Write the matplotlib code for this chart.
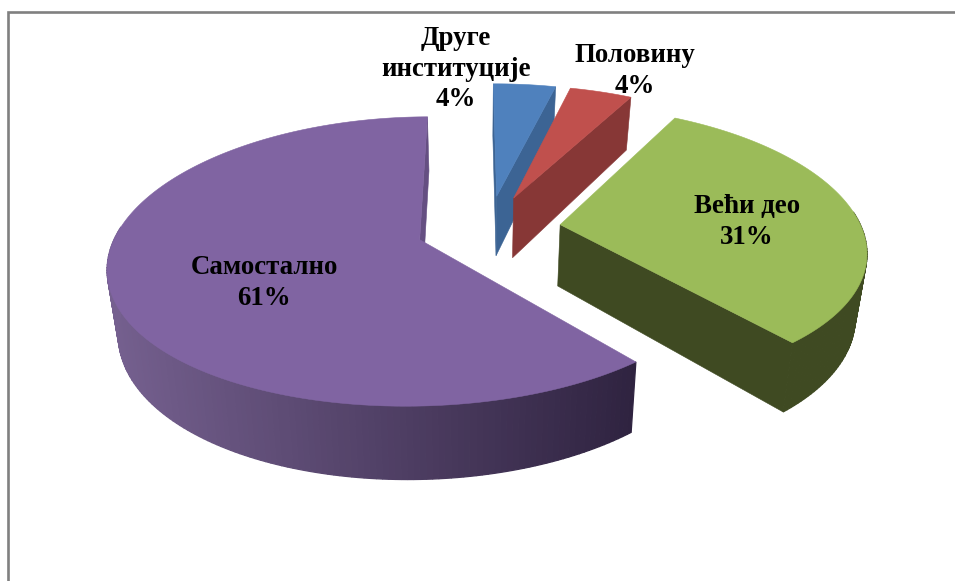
import numpy as np
import matplotlib
matplotlib.use("Agg")
import matplotlib.pyplot as plt

# chart data
labels = ["Друге\nинституције", "Половину", "Већи део", "Самостално"]
values = [4, 4, 31, 61]

# styles, one per slice
top_colors = ["#4f81bd", "#c0504d", "#9bbb59", "#8064a2"]
cut_colors = ["#3c6494", "#873736", "#3f4a22", "#654f82"]
side_left = ["#3c6494", "#873736", "#3f4a22", "#75608f"]
side_right = ["#3c6494", "#873736", "#3f4a22", "#2f2340"]
label_pos = [(456, 69), (635, 71), (747, 222), (264, 283)]

# projection of the pie plane to pixels
cx, cy, rx, ry, k = 488.5, 235.0, 304.0, 140.0, 0.15
kx = 0.17
start_angle = -0.5
explode = 0.24
y_shift = 0.05
depth = 62.0
vanish_x, shrink = 478.0, 0.97


def top_point(x, y):
    return cx + rx * x / (1.0 + kx * y), cy - ry * y / (1.0 + k * y)


def bottom_point(x, y):
    s = 1.0 / (1.0 + k * y)
    px, py = top_point(x, y)
    return vanish_x + (px - vanish_x) * shrink, py + depth * s


def cross(o, a, b):
    return (a[0] - o[0]) * (b[1] - o[1]) - (a[1] - o[1]) * (b[0] - o[0])


fig = plt.figure(figsize=(9.55, 5.81), dpi=100)
ax = fig.add_axes([0, 0, 1, 1])
ax.set_xlim(0, 955)
ax.set_ylim(581, 0)
ax.axis("off")

# chart frame (only top and left edges are in the picture)
ax.plot([8, 8, 955], [581, 12, 12], color="#808080", lw=1.9, solid_joinstyle="miter")

edges = start_angle + np.cumsum([0] + values) * 360.0 / sum(values)

for i in range(len(values)):
    a0, a1 = np.radians(edges[i]), np.radians(edges[i + 1])
    mid = 0.5 * (a0 + a1)
    ax0 = explode * np.sin(mid)
    ay0 = explode * np.cos(mid) + y_shift
    t = np.linspace(a0, a1, max(int(np.degrees(a1 - a0)), 6) + 1)
    xs = ax0 + np.sin(t)
    ys = ay0 + np.cos(t)
    top = [top_point(x, y) for x, y in zip(xs, ys)]
    bot = [bottom_point(x, y) for x, y in zip(xs, ys)]
    apex_t = top_point(ax0, ay0)
    apex_b = bottom_point(ax0, ay0)

    # outer wall, shaded across the slice from left to right
    c0 = np.array(matplotlib.colors.to_rgb(side_left[i]))
    c1 = np.array(matplotlib.colors.to_rgb(side_right[i]))
    wall_x = np.array([p[0] for p in top])
    lo, hi = wall_x.min(), wall_x.max()
    for j in range(len(t) - 1):
        if np.cos(0.5 * (t[j] + t[j + 1])) > 0.1:
            continue
        f = (0.5 * (wall_x[j] + wall_x[j + 1]) - lo) / max(hi - lo, 1.0)
        col = c0 + (c1 - c0) * f
        ax.fill([top[j][0], top[j + 1][0], bot[j + 1][0], bot[j][0]],
                [top[j][1], top[j + 1][1], bot[j + 1][1], bot[j][1]],
                color=col, lw=0.9)

    # cut faces, only when they turn towards the viewer
    if cross(apex_t, top[0], bot[0]) < -1:
        ax.fill([apex_t[0], top[0][0], bot[0][0], apex_b[0]],
                [apex_t[1], top[0][1], bot[0][1], apex_b[1]],
                color=cut_colors[i], lw=0.4)
    if cross(apex_t, top[-1], bot[-1]) > 1:
        ax.fill([apex_t[0], top[-1][0], bot[-1][0], apex_b[0]],
                [apex_t[1], top[-1][1], bot[-1][1], apex_b[1]],
                color=cut_colors[i], lw=0.4)

    # top face
    ax.fill([apex_t[0]] + [p[0] for p in top], [apex_t[1]] + [p[1] for p in top],
            color=top_colors[i], lw=0.4)

for name, v, (lx, ly) in zip(labels, values, label_pos):
    ax.text(lx, ly, f"{name}\n{v}%", ha="center", va="center", fontsize=19.4,
            fontweight="bold", family="Liberation Serif", color="black", linespacing=1.28)

fig.savefig("out.png", dpi=100, facecolor="white")
